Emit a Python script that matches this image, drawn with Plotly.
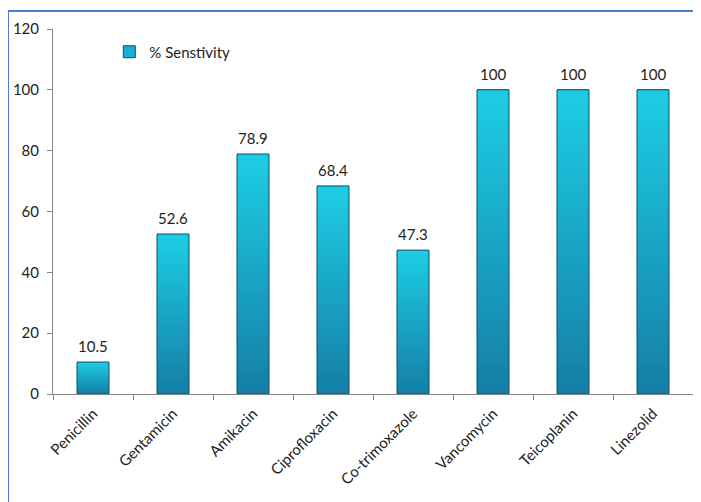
import plotly.graph_objects as go

categories = ["Penicillin", "Gentamicin", "Amikacin", "Ciprofloxacin",
              "Co-trimoxazole", "Vancomycin", "Teicoplanin", "Linezolid"]
sensitivity = [10.5, 52.6, 78.9, 68.4, 47.3, 100, 100, 100]
value_labels = ["10.5", "52.6", "78.9", "68.4", "47.3", "100", "100", "100"]
series_name = "% Senstivity"

FONT = "Lato"
N_BANDS = 30
top_rgb = (30, 206, 230)
bot_rgb = (21, 126, 166)

fig = go.Figure()

# gradient: each layer covers from its band start to the bar top (no seams)
for k in range(N_BANDS):
    t = (k + 0.5) / N_BANDS
    r = int(bot_rgb[0] + (top_rgb[0] - bot_rgb[0]) * t)
    g = int(bot_rgb[1] + (top_rgb[1] - bot_rgb[1]) * t)
    b = int(bot_rgb[2] + (top_rgb[2] - bot_rgb[2]) * t)
    fig.add_trace(go.Bar(
        x=categories,
        y=[v * (1 - k / N_BANDS) for v in sensitivity],
        base=[v * k / N_BANDS for v in sensitivity],
        marker=dict(color=f"rgb({r},{g},{b})", line=dict(width=0)),
        width=0.4, showlegend=False, hoverinfo="skip",
    ))

# outline
fig.add_trace(go.Bar(
    x=categories, y=sensitivity, width=0.4,
    marker=dict(color="rgba(0,0,0,0)", line=dict(color="#0E4F66", width=1)),
    showlegend=False,
))

# legend entry
fig.add_trace(go.Bar(
    x=categories, y=[None] * len(categories), name=series_name,
    marker=dict(color="#1AAFD2", line=dict(color="#0E4F66", width=1)),
    showlegend=True,
))

for c, v, s in zip(categories, sensitivity, value_labels):
    fig.add_annotation(x=c, y=v, text=s, showarrow=False, yanchor="bottom",
                       yshift=5, font=dict(family=FONT, size=15, color="#222"))

# outer frame lines (left and top)
frame = "#4F7BD0"
fig.add_shape(type="line", xref="paper", yref="paper", x0=-0.0703, x1=-0.0703,
              y0=1.049, y1=-0.4, line=dict(color=frame, width=2))
fig.add_shape(type="line", xref="paper", yref="paper", x0=-0.0703, x1=1.1,
              y0=1.049, y1=1.049, line=dict(color=frame, width=2))

fig.update_layout(
    width=701, height=502,
    margin=dict(l=45, r=16, t=21, b=116),
    paper_bgcolor="white", plot_bgcolor="white",
    barmode="overlay",
    font=dict(family=FONT, size=15, color="#222"),
    legend=dict(x=0.088, y=0.937, xanchor="left", yanchor="middle",
                bgcolor="rgba(0,0,0,0)", font=dict(family=FONT, size=15),
                itemwidth=30),
    xaxis=dict(
        type="category", tickangle=-45, tickson="boundaries",
        showline=True, linecolor="#868686", linewidth=1,
        ticks="outside", ticklen=5, tickcolor="#868686",
        showgrid=False, tickfont=dict(family=FONT, size=15),
        ticklabelstandoff=4, automargin=False,
    ),
    yaxis=dict(
        range=[0, 120], dtick=20, showline=True, linecolor="#868686",
        linewidth=1, ticks="outside", ticklen=5, tickcolor="#868686",
        showgrid=False, zeroline=False, tickfont=dict(family=FONT, size=15),
        ticklabelstandoff=5, automargin=False,
    ),
)

fig.write_html("out.html")
